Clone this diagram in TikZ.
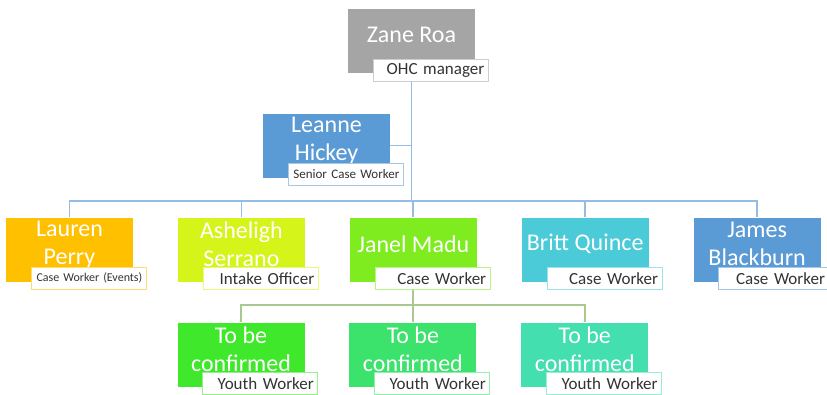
\documentclass[tikz,border=0pt]{standalone}
\usepackage{fontspec}
\setmainfont{Carlito}
\usepackage{xcolor}
\usepackage{tikz}
\usetikzlibrary{positioning,backgrounds}
\definecolor{zanecol}{HTML}{A5A5A5}
\definecolor{bluecol}{HTML}{5B9BD5}
\definecolor{orangecol}{HTML}{FFC000}
\definecolor{limecol}{HTML}{D4F41A}
\definecolor{greencol}{HTML}{7FEC1F}
\definecolor{cyancol}{HTML}{4BCBD8}
\definecolor{youthacol}{HTML}{3FE82A}
\definecolor{youthbcol}{HTML}{3BE26C}
\definecolor{youthccol}{HTML}{44DFAE}
\definecolor{toplink}{HTML}{95BDE4}
\definecolor{lowlink}{HTML}{A9C98F}
\tikzset{person/.style={rectangle,fill=#1,minimum width=127pt,minimum height=64pt,inner sep=0pt},}
\tikzset{who/.style={align=center,text=white,inner sep=0pt,font=\fontsize{24}{28}\selectfont},}
\tikzset{role/.style={rectangle,draw=#1!55,fill=white,line width=1pt,minimum height=22pt,text width=107pt,inner xsep=4pt,inner ysep=0pt,align=right,text=black!80,anchor=south west,font=\fontsize{17}{19}\selectfont},}
\tikzstyle{link} = [line width=1.8pt,toplink]
\tikzstyle{youth link} = [line width=1.8pt,lowlink]

\begin{document}
\begin{tikzpicture}[x=1pt,y=-1pt]
    \useasboundingbox (0,0) rectangle (827,394);
    % boxes
    \node[person=zanecol] (zane) at (411.5,41) {};
    \node[person=bluecol] (leanne) at (326.5,145.5) {};
    \node[person=orangecol] (lauren) at (69.5,249.5) {};
    \node[person=limecol] (asheligh) [right=44.5pt of lauren] {};
    \node[person=greencol] (janel) [right=44.5pt of asheligh] {};
    \node[person=cyancol] (britt) [right=44.5pt of janel] {};
    \node[person=bluecol] (james) [right=44.5pt of britt] {};
    \node[person=youthacol] (tbc1) at (241,354.5) {};
    \node[person=youthbcol] (tbc2) [right=44.5pt of tbc1] {};
    \node[person=youthccol] (tbc3) [right=44.5pt of tbc2] {};

    % names
    \node[who] (zane-n) at ([yshift=-26pt]zane.north) {Zane Roa};
    \node[who] (leanne-n) at ([yshift=-27pt]leanne.north) {Leanne\\Hickey};
    \node[who] (lauren-n) at ([yshift=-27pt]lauren.north) {Lauren\\Perry};
    \node[who] (asheligh-n) at ([yshift=-27pt]asheligh.north) {Asheligh\\Serrano};
    \node[who] (janel-n) at ([yshift=-27pt]janel.north) {Janel Madu};
    \node[who] (britt-n) at ([yshift=-27pt]britt.north) {Britt Quince};
    \node[who] (james-n) at ([yshift=-27pt]james.north) {James\\Blackburn};
    \node[who] (tbc1-n) at ([yshift=-27pt]tbc1.north) {To be\\confirmed};
    \node[who] (tbc2-n) at ([yshift=-27pt]tbc2.north) {To be\\confirmed};
    \node[who] (tbc3-n) at ([yshift=-27pt]tbc3.north) {To be\\confirmed};

    % roles
    \node[role=zanecol] (zane-r) at ([shift={(25pt,-9pt)}]zane.south west) {OHC manager};
    \node[role=bluecol,font=\fontsize{13}{15}\selectfont] (leanne-r) at ([shift={(25pt,-8pt)}]leanne.south west) {Senior Case Worker};
    \node[role=orangecol,font=\fontsize{12}{14}\selectfont] (lauren-r) at ([shift={(25pt,-8pt)}]lauren.south west) {Case Worker (Events)};
    \node[role=limecol] (asheligh-r) at ([shift={(25pt,-8pt)}]asheligh.south west) {Intake Officer};
    \node[role=greencol] (janel-r) at ([shift={(25pt,-8pt)}]janel.south west) {Case Worker};
    \node[role=cyancol] (britt-r) at ([shift={(25pt,-8pt)}]britt.south west) {Case Worker};
    \node[role=bluecol,text width=102pt] (james-r) at ([shift={(25pt,-8pt)}]james.south west) {Case Worker};
    \node[role=youthacol] (tbc1-r) at ([shift={(25pt,-8pt)}]tbc1.south west) {Youth Worker};
    \node[role=youthbcol] (tbc2-r) at ([shift={(25pt,-8pt)}]tbc2.south west) {Youth Worker};
    \node[role=youthccol] (tbc3-r) at ([shift={(25pt,-8pt)}]tbc3.south west) {Youth Worker};

    \begin{scope}[on background layer]
    \coordinate (hub) at (zane.south |- 0,201);
    \draw[link] (zane.south) -- (hub);
    \draw[link] (leanne.east) -- (leanne.east -| zane.south);
    \foreach \n in {lauren,asheligh,janel,britt,james}
        \draw[link] (hub) -| (\n.north);
    \coordinate (subhub) at (janel.south |- 0,305);
    \draw[youth link] (janel.south) -- (subhub);
    \foreach \n in {tbc1,tbc2,tbc3}
        \draw[youth link] (subhub) -| (\n.north);
    \end{scope}
\end{tikzpicture}
\end{document}
